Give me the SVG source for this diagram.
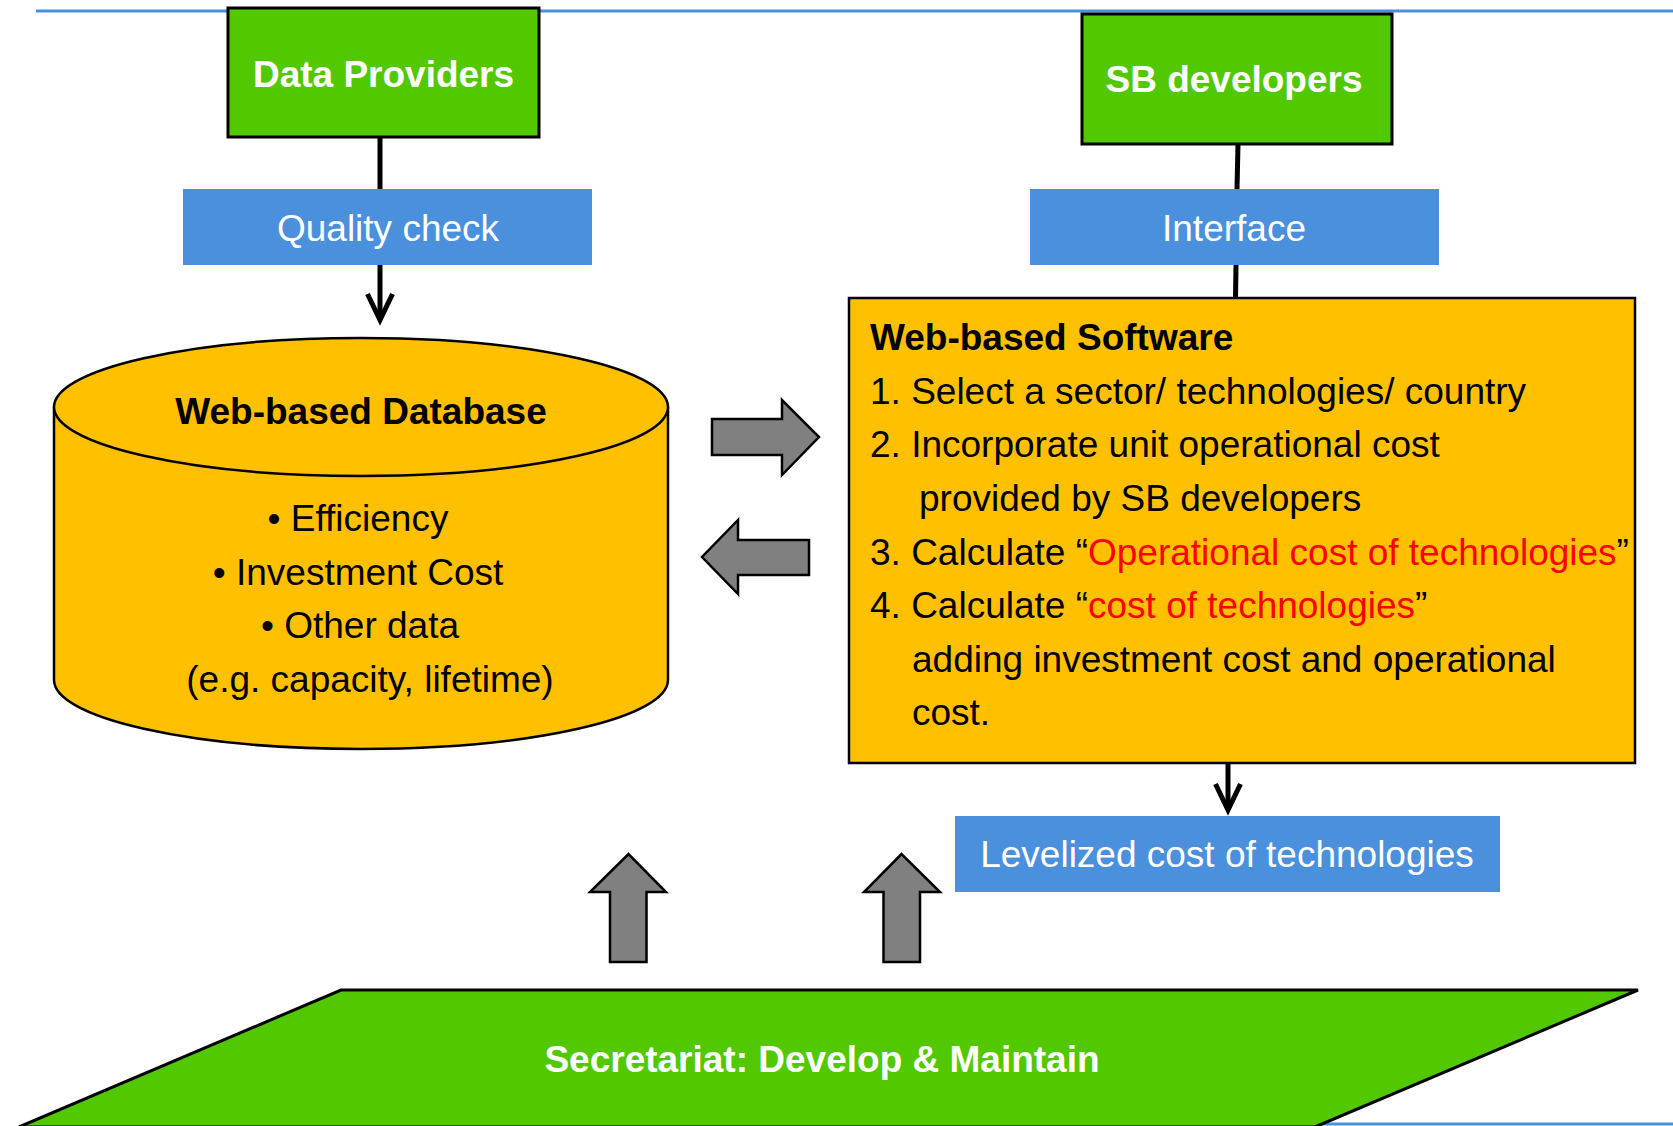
<svg xmlns="http://www.w3.org/2000/svg" width="1673" height="1126" viewBox="0 0 1673 1126">
<style>
.actor{fill:#52C800;stroke:#000;stroke-width:3}
.label{fill:#4A90DD}
.store{fill:#FFC000;stroke:#000;stroke-width:2.5}
.block{fill:#808080;stroke:#000;stroke-width:2.5;stroke-linejoin:miter}
.wire{stroke:#000;stroke-width:5;fill:none}
.rule{stroke:#4A90DD;stroke-width:3}
text{font-family:"Liberation Sans",Arial,sans-serif;font-size:37px}
.wb{fill:#fff;font-weight:bold}
.wr{fill:#fff}
.bk{fill:#000}
.bb{fill:#000;font-weight:bold}
.red{fill:#FF0000}
.c{text-anchor:middle}
</style>
<defs>
<marker id="vhead" markerUnits="userSpaceOnUse" viewBox="-34 -18 40 36" markerWidth="40" markerHeight="36" refX="0" refY="0" orient="auto">
<path d="M-26,-12.5 L0,0 L-26,12.5" fill="none" stroke="#000" stroke-width="5" stroke-linejoin="miter"/>
</marker>
</defs>
<rect width="1673" height="1126" fill="#fff"/>
<g id="rules">
<line class="rule" x1="36" y1="11" x2="1673" y2="11"/>
<line class="rule" x1="1000" y1="1124" x2="1673" y2="1124"/>
</g>
<g id="connectors">
<line class="wire" x1="380" y1="137" x2="380" y2="189"/>
<path class="wire" d="M380,265 L380,320" marker-end="url(#vhead)"/>
<line class="wire" x1="1238" y1="144" x2="1237" y2="189"/>
<line class="wire" x1="1236" y1="265" x2="1235.5" y2="298"/>
<path class="wire" d="M1228,763 L1228,810" stroke-width="4" marker-end="url(#vhead)"/>
<polygon class="block" points="712,419 782,419 782,400 819,437 782,475 782,455 712,455"/>
<polygon class="block" points="809,540 738,540 738,520 702,557 738,594 738,575 809,575"/>
<polygon class="block" points="610,962 610,892 590,892 628.5,854 666,892 646.5,892 646.5,962"/>
<polygon class="block" points="883.5,962 883.5,892 864,892 901.5,854 940,892 920,892 920,962"/>
</g>
<g id="data-providers">
<rect class="actor" x="228" y="8" width="311" height="129"/>
<text class="wb c" x="383.5" y="87">Data Providers</text>
</g>
<g id="sb-developers">
<rect class="actor" x="1082" y="14" width="310" height="130"/>
<text class="wb c" x="1234" y="92">SB developers</text>
</g>
<g id="quality-check">
<rect class="label" x="183" y="189" width="409" height="76"/>
<text class="wr c" x="388" y="241">Quality check</text>
</g>
<g id="interface">
<rect class="label" x="1030" y="189" width="409" height="76"/>
<text class="wr c" x="1234" y="241">Interface</text>
</g>
<g id="database">
<path class="store" d="M54,407 L54,680 A307,69 0 0 0 668,680 L668,407"/>
<ellipse class="store" cx="361" cy="407" rx="307" ry="69"/>
<text class="bb c" x="361" y="424">Web-based Database</text>
<text class="bk c" x="358" y="531">• Efficiency</text>
<text class="bk c" x="358" y="585">• Investment Cost</text>
<text class="bk c" x="360" y="638">• Other data</text>
<text class="bk c" x="370" y="692">(e.g. capacity, lifetime)</text>
</g>
<g id="software">
<rect class="store" x="849" y="298" width="786" height="465"/>
<text class="bb" x="870" y="350">Web-based Software</text>
<text class="bk" x="870" y="404">1. Select a sector/ technologies/ country</text>
<text class="bk" x="870" y="457">2. Incorporate unit operational cost</text>
<text class="bk" x="919" y="511">provided by SB developers</text>
<text class="bk" x="870" y="565">3. Calculate “<tspan class="red">Operational cost of technologies</tspan>”</text>
<text class="bk" x="870" y="618">4. Calculate “<tspan class="red">cost of technologies</tspan>”</text>
<text class="bk" x="912" y="672">adding investment cost and operational</text>
<text class="bk" x="912" y="725">cost.</text>
</g>
<g id="levelized">
<rect class="label" x="955" y="816" width="545" height="76"/>
<text class="wr c" x="1227" y="867">Levelized cost of technologies</text>
</g>
<g id="secretariat">
<polygon class="actor" points="341,990 1638,990 1315,1127 19,1127"/>
<text class="wb c" x="822" y="1072">Secretariat: Develop &amp; Maintain</text>
</g>
</svg>
